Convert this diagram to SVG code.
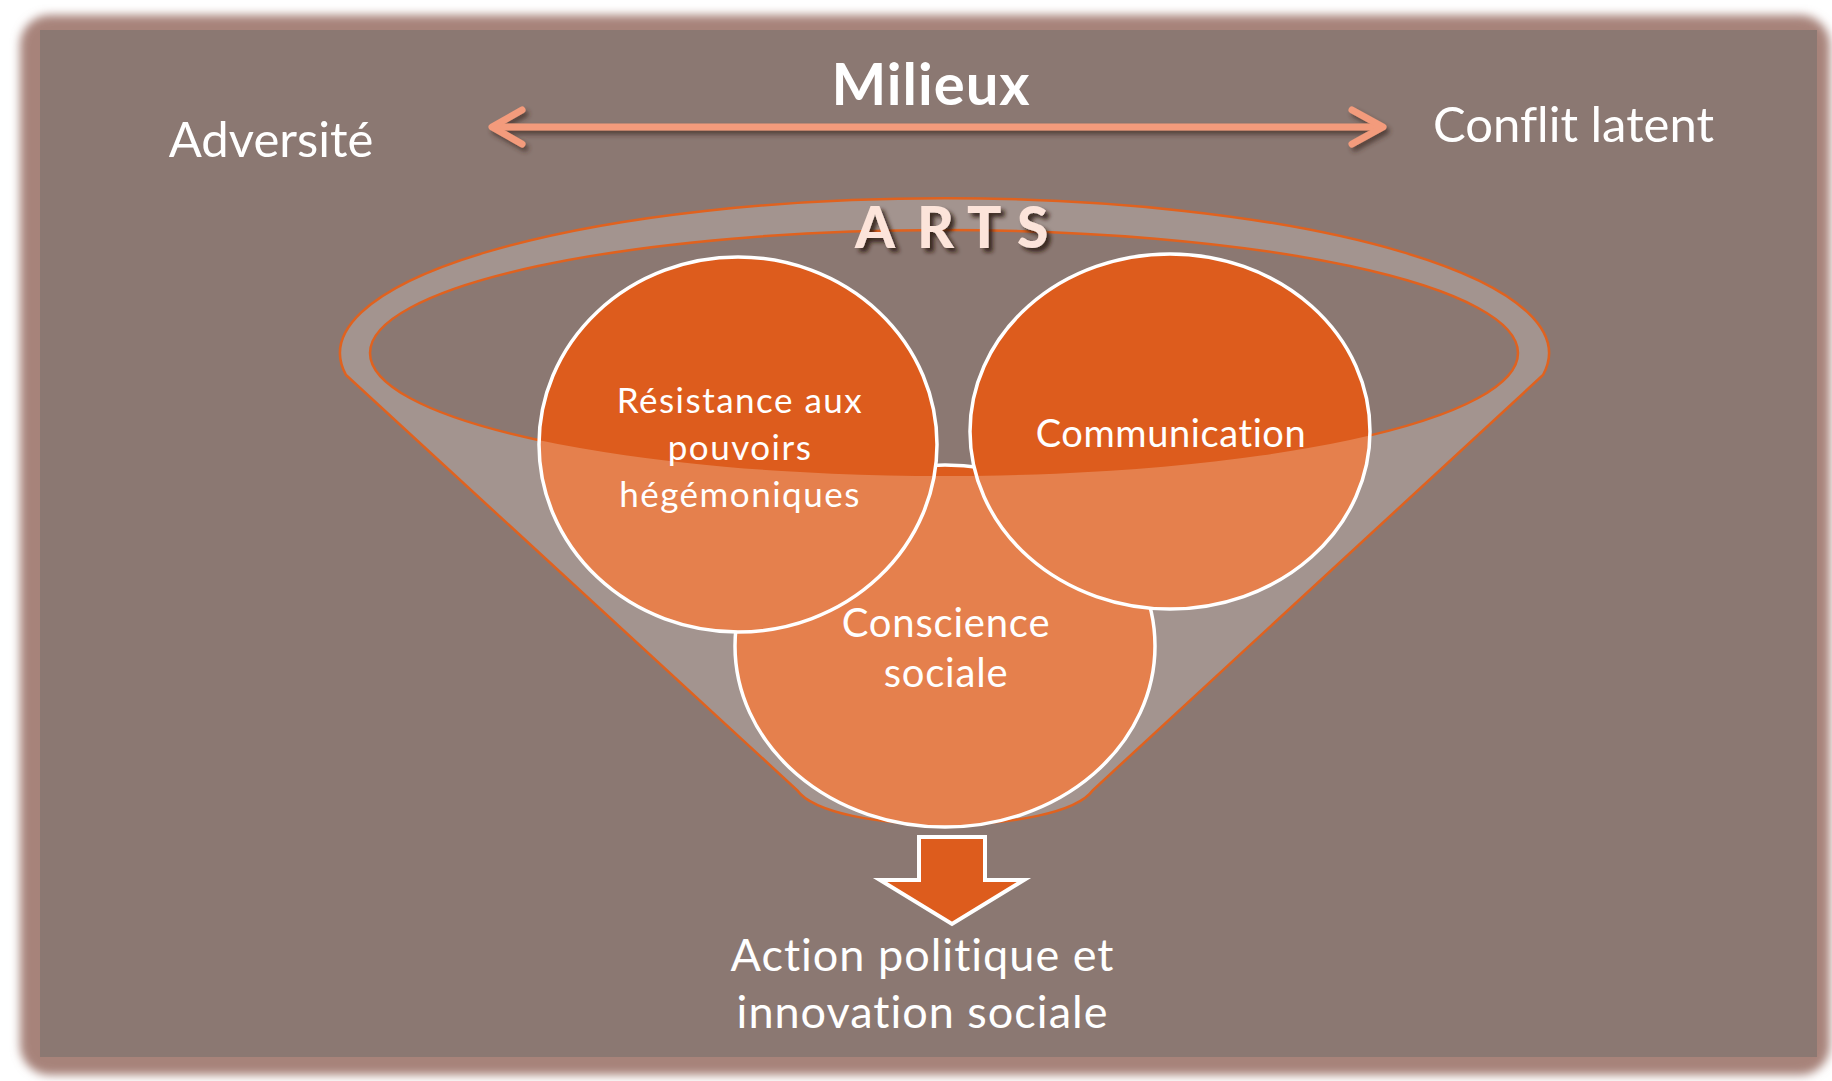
<svg xmlns="http://www.w3.org/2000/svg" width="1832" height="1081" viewBox="0 0 1832 1081">
<defs>
<style>
.t{font-family:Lato,"Noto Sans","Liberation Sans",sans-serif;fill:#ffffff;text-anchor:middle;font-variant-ligatures:none;font-feature-settings:"liga" 0}
.circ{stroke:#ffffff;stroke-width:3.5;fill:none}
.dark{fill:#DD5C1D}
.light{fill:#E5804D}
.edge{fill:none;stroke:#E0621F;stroke-width:2.5}
</style>
<filter id="blurEdge" x="-5%" y="-5%" width="110%" height="110%"><feGaussianBlur stdDeviation="5"/></filter>
<filter id="shadowBig" x="-20%" y="-30%" width="140%" height="160%"><feDropShadow dx="4" dy="4" stdDeviation="2" flood-color="#2a1510" flood-opacity="0.85"/></filter>
<filter id="shadowArrow" x="-5%" y="-50%" width="110%" height="200%"><feDropShadow dx="3" dy="4" stdDeviation="2.5" flood-color="#3a2520" flood-opacity="0.7"/></filter>
<clipPath id="outsideInner"><path clip-rule="evenodd" d="M0,0 H1832 V1081 H0 Z M370,353 A574,123 0 1 0 1518,353 A574,123 0 1 0 370,353 Z"/></clipPath>
</defs>

<g id="frame">
<rect x="20" y="15" width="1810" height="1060" rx="30" fill="#A7837A" filter="url(#blurEdge)"/>
<rect x="40" y="30" width="1777" height="1027" fill="#8B7872"/>
</g>

<g id="funnel">
<path d="M346,375 A604.5,155 0 1 1 1543,375 L1093,790 C1060,836 830,836 797,790 Z M370,353 A574,123 0 1 0 1518,353 A574,123 0 1 0 370,353 Z" fill="#ffffff" fill-opacity="0.21" fill-rule="evenodd"/>
<path class="edge" d="M346,375 A604.5,155 0 1 1 1543,375 L1093,790 C1060,836 830,836 797,790 Z"/>
<ellipse class="edge" cx="944" cy="353" rx="574" ry="123"/>
</g>

<g id="node-conscience">
<ellipse class="dark" cx="945" cy="646" rx="210" ry="181"/>
<ellipse class="light" cx="945" cy="646" rx="210" ry="181" clip-path="url(#outsideInner)"/>
<ellipse class="circ" cx="945" cy="646" rx="210" ry="181"/>
<text class="t" x="946" y="637" font-size="40" letter-spacing="0.8">Conscience</text>
<text class="t" x="946" y="687" font-size="40" letter-spacing="0.8">sociale</text>
</g>

<g id="node-resistance">
<ellipse class="dark" cx="738" cy="444.5" rx="199" ry="187.5"/>
<ellipse class="light" cx="738" cy="444.5" rx="199" ry="187.5" clip-path="url(#outsideInner)"/>
<ellipse class="circ" cx="738" cy="444.5" rx="199" ry="187.5"/>
<text class="t" x="740" y="413" font-size="35" letter-spacing="1.5">Résistance aux</text>
<text class="t" x="740" y="460" font-size="35" letter-spacing="1.5">pouvoirs</text>
<text class="t" x="740" y="507" font-size="35" letter-spacing="1.5">hégémoniques</text>
</g>

<g id="node-communication">
<ellipse class="dark" cx="1170" cy="431.5" rx="200" ry="177.5"/>
<ellipse class="light" cx="1170" cy="431.5" rx="200" ry="177.5" clip-path="url(#outsideInner)"/>
<ellipse class="circ" cx="1170" cy="431.5" rx="200" ry="177.5"/>
<text class="t" x="1171" y="447" font-size="38" letter-spacing="0.6">Communication</text>
</g>

<g id="node-arts">
<text x="855 917 967 1017" y="248" font-family="Lato,'Noto Sans','Liberation Sans',sans-serif" font-weight="900" font-size="57" fill="#FCE4DA" filter="url(#shadowBig)">ARTS</text>
</g>

<g id="node-milieux">
<text class="t" x="931" y="105" font-size="58" font-weight="700" letter-spacing="1">Milieux</text>
</g>
<g id="node-adversite">
<text class="t" x="271" y="157" font-size="49">Adversité</text>
</g>
<g id="node-conflit">
<text class="t" x="1573.5" y="142" font-size="49">Conflit latent</text>
</g>
<g id="node-action">
<text class="t" x="922.5" y="971" font-size="45" letter-spacing="1">Action politique et</text>
<text class="t" x="922.5" y="1028" font-size="45" letter-spacing="1">innovation sociale</text>
</g>

<g id="connectors">
<g filter="url(#shadowArrow)" stroke="#F39B7B" stroke-width="7" stroke-linecap="round" stroke-linejoin="round" fill="none">
<path d="M495,127 H1380"/>
<path d="M522,110 L492,127 L522,144"/>
<path d="M1352,110 L1383,127 L1352,144"/>
</g>
<path d="M919,837 H985 V880 H1024 L952,924 L880,880 H919 Z" fill="#DD5C1D" stroke="#ffffff" stroke-width="4"/>
</g>
</svg>
